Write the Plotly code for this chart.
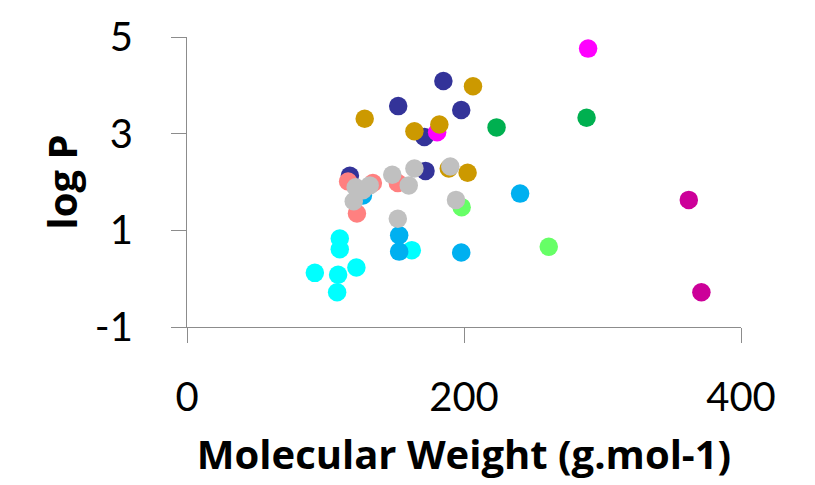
import plotly.graph_objects as go

# series: (name, color, x values (molecular weight), y values (log P))
navy_x = [185.1, 152.5, 198.0, 171.4, 117.6, 172.2]
navy_y = [4.09, 3.57, 3.49, 2.93, 2.13, 2.23]
magenta_x = [289.6, 180.6]
magenta_y = [4.76, 3.03]
gold_x = [206.5, 128.3, 164.2, 182.2, 189.0, 202.6]
gold_y = [3.98, 3.31, 3.05, 3.19, 2.28, 2.19]
dgreen_x = [288.5, 223.5]
dgreen_y = [3.33, 3.13]
cyan_x = [110.3, 110.3, 92.3, 109.1, 122.3, 108.4, 162.3]
cyan_y = [0.83, 0.61, 0.12, 0.08, 0.23, -0.28, 0.59]
lblue_x = [240.5, 198.0, 153.2, 153.2, 127.0]
lblue_y = [1.76, 0.54, 0.90, 0.56, 1.72]
lgreen_x = [198.3, 261.2]
lgreen_y = [1.48, 0.66]
salmon_x = [116.3, 134.2, 122.7, 152.2]
salmon_y = [2.01, 1.98, 1.35, 1.98]
gray_x = [148.2, 160.1, 164.2, 152.2, 190.1, 194.2, 120.4, 121.8, 131.9, 127.0]
gray_y = [2.15, 1.93, 2.28, 1.24, 2.32, 1.63, 1.60, 1.89, 1.93, 1.83]
dmag_x = [362.3, 371.4]
dmag_y = [1.63, -0.28]

series = [
    ("navy", "#333399", navy_x, navy_y),
    ("magenta", "#FF00FF", magenta_x, magenta_y),
    ("gold", "#CC9900", gold_x, gold_y),
    ("dgreen", "#00B050", dgreen_x, dgreen_y),
    ("cyan", "#00FFFF", cyan_x, cyan_y),
    ("lblue", "#00B0F0", lblue_x, lblue_y),
    ("lgreen", "#66FF66", lgreen_x, lgreen_y),
    ("salmon", "#FF8080", salmon_x, salmon_y),
    ("gray", "#C0C0C0", gray_x, gray_y),
    ("dmag", "#CC0099", dmag_x, dmag_y),
]

x_ticks = [0, 200, 400]
x_tick_text = ["0", "200", "400"]
y_ticks = [-1, 1, 3, 5]
y_tick_text = ["-1", "1", "3", "5"]

fig = go.Figure()
for name, color, xs, ys in series:
    fig.add_trace(go.Scatter(
        x=xs, y=ys, mode="markers", name=name,
        marker=dict(size=18.5, color=color, line=dict(width=0)),
        showlegend=False,
    ))

axis_color = "#8C8C8C"
fig.update_layout(
    width=815, height=485,
    margin=dict(l=179, r=82, t=29, b=166),
    paper_bgcolor="white", plot_bgcolor="white",
    font=dict(family="Lato", color="black"),
    xaxis=dict(
        range=[0, 400], tickvals=x_ticks, ticktext=x_tick_text,
        showgrid=False, zeroline=False, automargin=False,
        showline=True, linecolor=axis_color, linewidth=1.3,
        ticks="outside", ticklen=15, tickwidth=1.3, tickcolor=axis_color,
        tickfont=dict(size=40, family="Lato"), ticklabelstandoff=20,
        title=dict(text="<b>Molecular Weight (g.mol-1)</b>",
                   font=dict(size=40, family="Open Sans"), standoff=21),
    ),
    yaxis=dict(
        range=[-1, 5], tickvals=y_ticks, ticktext=y_tick_text,
        showgrid=False, zeroline=False, automargin=False,
        showline=True, linecolor=axis_color, linewidth=1.3,
        ticks="outside", ticklen=15, tickwidth=1.3, tickcolor=axis_color,
        tickfont=dict(size=40, family="Lato"), ticklabelstandoff=30,
        title=dict(text="<b>log P</b>",
                   font=dict(size=40, family="Open Sans"), standoff=4),
    ),
)

fig.write_html("out.html")
